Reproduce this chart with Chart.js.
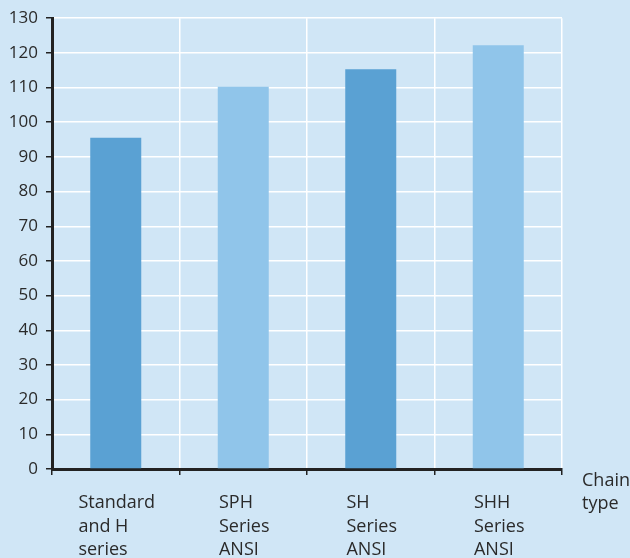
<!DOCTYPE html>
<html>
<head>
<meta charset="utf-8">
<script src="https://cdn.jsdelivr.net/npm/chart.js@4.4.1/dist/chart.umd.min.js"></script>
<style>
  html, body { margin: 0; padding: 0; background: #d0e6f6; }
  #wrap { width: 630px; height: 558px; }
</style>
</head>
<body>
<div id="wrap"><canvas id="chart" width="630" height="558"></canvas></div>
<script>
// --- DATA ---
const categories = [
  ['Standard', 'and H', 'series'],
  ['SPH', 'Series', 'ANSI'],
  ['SH', 'Series', 'ANSI'],
  ['SHH', 'Series', 'ANSI']
];
const values = [95.5, 110.2, 115.3, 122.2];
const barColors = ['#5aa1d3', '#90c5ea', '#5aa1d3', '#90c5ea'];
const yTicks = [0, 10, 20, 30, 40, 50, 60, 70, 80, 90, 100, 110, 120, 130];
const axisTitle = ['Chain', 'type'];

const FONT = '"Open Sans", "DejaVu Sans", sans-serif';
const TEXT = '#2a2a2a';

// draws the multi-line category labels and the "Chain type" title
const labelPlugin = {
  id: 'labels',
  afterDraw(chart) {
    const ctx = chart.ctx;
    const x = chart.scales.x;
    const area = chart.chartArea;
    ctx.save();
    ctx.font = '18px ' + FONT;
    ctx.fillStyle = TEXT;
    ctx.textAlign = 'left';
    ctx.textBaseline = 'alphabetic';
    categories.forEach((lines, i) => {
      const cx = x.getPixelForValue(i);
      const w = Math.max(...lines.map(l => ctx.measureText(l).width));
      lines.forEach((line, j) => {
        ctx.fillText(line, cx - w / 2 + 1, area.bottom + 39 + j * 23.5);
      });
    });
    axisTitle.forEach((line, j) => {
      ctx.fillText(line, area.right + 20, area.bottom + 17 + j * 23);
    });
    ctx.restore();
  }
};

new Chart(document.getElementById('chart'), {
  type: 'bar',
  data: {
    labels: categories.map(c => c.join(' ')),
    datasets: [{
      data: values,
      backgroundColor: barColors,
      barPercentage: 0.4,
      categoryPercentage: 1.0
    }]
  },
  options: {
    responsive: false,
    animation: false,
    layout: { padding: { top: 17, right: 68, left: 0, bottom: 0 } },
    plugins: { legend: { display: false }, tooltip: { enabled: false } },
    scales: {
      x: {
        afterFit(scale) { scale.height = 89; },
        grid: { color: '#ffffff', lineWidth: 1.5, tickColor: '#222222', tickLength: 6, offset: true },
        border: { color: '#222222', width: 3 },
        ticks: { display: false }
      },
      y: {
        min: 0,
        max: 130,
        afterFit(scale) { scale.width = 52; },
        afterBuildTicks(scale) { scale.ticks = yTicks.map(v => ({ value: v })); },
        grid: { color: '#ffffff', lineWidth: 1.5, tickColor: '#222222', tickLength: 6 },
        border: { color: '#222222', width: 3 },
        ticks: { color: TEXT, font: { family: FONT, size: 17 }, padding: 8 }
      }
    }
  },
  plugins: [labelPlugin]
});
</script>
</body>
</html>
